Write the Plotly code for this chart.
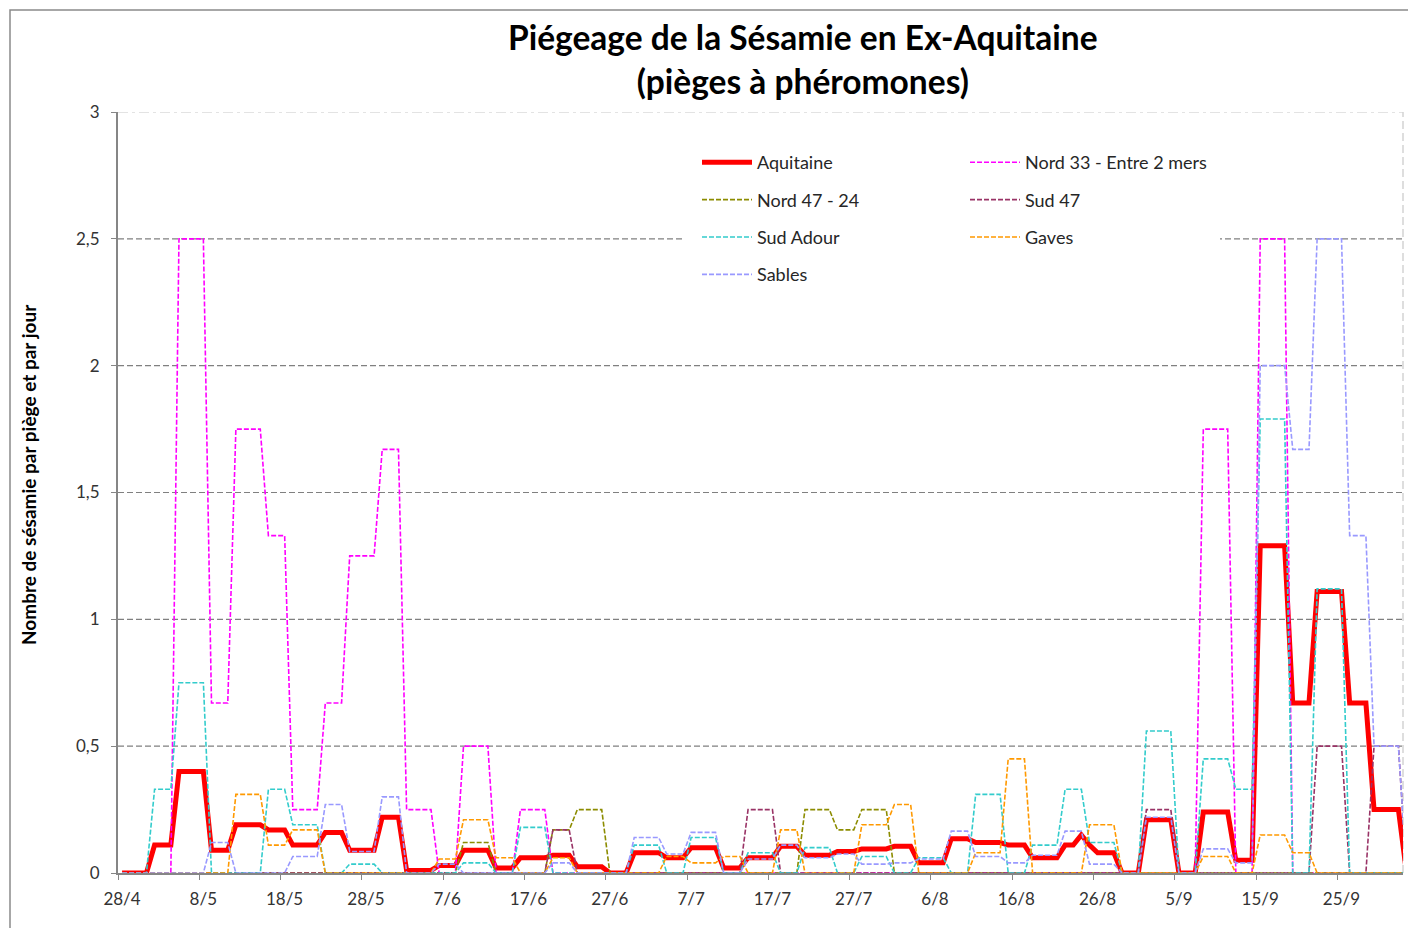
import numpy as np
import pandas as pd
import plotly.graph_objects as go

# ---- data -------------------------------------------------------------
# trap reading periods (Monday / Thursday); each day takes the value of its period
period_start = ["2016-04-28", "2016-05-02", "2016-05-05", "2016-05-09", "2016-05-12", "2016-05-16",
                "2016-05-19", "2016-05-23", "2016-05-26", "2016-05-30", "2016-06-02", "2016-06-06",
                "2016-06-09", "2016-06-13", "2016-06-16", "2016-06-20", "2016-06-23", "2016-06-27",
                "2016-06-30", "2016-07-04", "2016-07-07", "2016-07-11", "2016-07-14", "2016-07-18",
                "2016-07-21", "2016-07-25", "2016-07-28", "2016-08-01", "2016-08-04", "2016-08-08",
                "2016-08-11", "2016-08-15", "2016-08-18", "2016-08-22", "2016-08-25", "2016-08-29",
                "2016-09-01", "2016-09-05", "2016-09-08", "2016-09-12", "2016-09-15", "2016-09-19",
                "2016-09-22", "2016-09-26", "2016-09-29", "2016-10-03"]
first_day = "2016-04-28"
last_day = "2016-10-03"

aquitaine = [0, 0.11, 0.40, 0.09, 0.19, 0.17, 0.11, 0.16, 0.09, 0.22, 0.01, 0.03, 0.09, 0.02, 0.06, 0.07,
             0.025, 0, 0.08, 0.06, 0.10, 0.02, 0.06, 0.105, 0.07, 0.085, 0.095, 0.105, 0.04, 0.135,
             0.12, 0.11, 0.06, 0.11, 0.08, 0, 0.21, 0, 0.24, 0.05, 1.29, 0.67, 1.11, 0.67, 0.25, 0]
aquitaine_daily = {"2016-08-24": 0.15, "2016-08-25": 0.11}
nord33 = [0, 0, 2.5, 0.67, 1.75, 1.33, 0.25, 0.67, 1.25, 1.67, 0.25, 0, 0.5, 0, 0.25, 0,
          0, 0, 0, 0, 0, 0, 0, 0, 0, 0, 0, 0, 0, 0,
          0, 0, 0, 0, 0, 0, 0, 0, 1.75, 0, 2.5, 0, 0, 0, 0, 0]
nord47_24 = [0, 0, 0, 0, 0, 0, 0, 0, 0, 0, 0, 0, 0.12, 0, 0, 0.17,
             0.25, 0, 0, 0, 0, 0, 0, 0, 0.25, 0.17, 0.25, 0, 0, 0,
             0, 0, 0, 0, 0, 0, 0, 0, 0, 0, 0, 0, 0, 0, 0, 0]
sud47 = [0, 0, 0, 0, 0, 0, 0, 0, 0, 0, 0, 0, 0, 0, 0, 0.17,
         0, 0, 0, 0, 0, 0, 0.25, 0, 0, 0, 0, 0, 0, 0,
         0, 0, 0, 0, 0, 0, 0.25, 0, 0, 0, 0, 0, 0.5, 0, 0.5, 0]
sud_adour = [0, 0.33, 0.75, 0, 0, 0.33, 0.19, 0, 0.035, 0, 0, 0, 0.04, 0, 0.18, 0,
             0, 0, 0.11, 0, 0.14, 0, 0.08, 0, 0.10, 0, 0.065, 0, 0.06, 0,
             0.31, 0, 0.11, 0.33, 0.12, 0, 0.56, 0, 0.45, 0.33, 1.79, 0, 1.12, 0, 0, 0]
gaves = [0, 0, 0, 0, 0.31, 0.11, 0.17, 0, 0, 0, 0, 0.055, 0.21, 0.06, 0, 0.06,
         0, 0, 0, 0.065, 0.04, 0.065, 0, 0.17, 0, 0, 0.19, 0.27, 0, 0,
         0.08, 0.45, 0, 0, 0.19, 0, 0, 0, 0.065, 0, 0.15, 0.08, 0, 0, 0, 0]
sables = [0, 0, 0, 0.12, 0, 0, 0.065, 0.27, 0.085, 0.30, 0, 0.035, 0, 0, 0, 0.04,
          0, 0, 0.14, 0.075, 0.16, 0, 0.055, 0.11, 0.06, 0.075, 0.035, 0.04, 0.055, 0.165,
          0.065, 0.04, 0.07, 0.165, 0.035, 0, 0.22, 0, 0.095, 0.04, 2.0, 1.67, 2.5, 1.33, 0.5, 0]

tick_pos = ["2016-04-27 12:00", "2016-05-07 12:00", "2016-05-17 12:00", "2016-05-27 12:00",
            "2016-06-06 12:00", "2016-06-16 12:00", "2016-06-26 12:00", "2016-07-06 12:00",
            "2016-07-16 12:00", "2016-07-26 12:00", "2016-08-05 12:00", "2016-08-15 12:00",
            "2016-08-25 12:00", "2016-09-04 12:00", "2016-09-14 12:00", "2016-09-24 12:00"]
tick_labels = ["28/4", "8/5", "18/5", "28/5", "7/6", "17/6", "27/6", "7/7", "17/7", "27/7",
               "6/8", "16/8", "26/8", "5/9", "15/9", "25/9"]
y_ticks = [0, 0.5, 1, 1.5, 2, 2.5, 3]
y_labels = ["0", "0,5", "1", "1,5", "2", "2,5", "3"]

# ---- build daily series ----------------------------------------------
days = pd.date_range(first_day, last_day, freq="D")
starts = pd.to_datetime(period_start)
idx = np.searchsorted(starts.values, days.values, side="right") - 1


def daily(vals, overrides=None):
    arr = np.asarray(vals, dtype=float)[idx]
    if overrides:
        for k, v in overrides.items():
            arr[days.get_loc(pd.Timestamp(k))] = v
    return arr


series = [
    ("Aquitaine", daily(aquitaine, aquitaine_daily), "#FF0000", 5, "solid", "legend"),
    ("Nord 33 - Entre 2 mers", daily(nord33), "#FF00FF", 1.6, "5px,2px", "legend2"),
    ("Nord 47 - 24", daily(nord47_24), "#8C8C00", 1.6, "5px,2px", "legend"),
    ("Sud 47", daily(sud47), "#993366", 1.6, "5px,2px", "legend2"),
    ("Sud Adour", daily(sud_adour), "#33CCCC", 1.6, "5px,2px", "legend"),
    ("Gaves", daily(gaves), "#FF9900", 1.6, "5px,2px", "legend2"),
    ("Sables", daily(sables), "#9999FF", 1.6, "5px,2px", "legend"),
]

FONT = "Lato, 'Open Sans', sans-serif"
fig = go.Figure()
for name, y, col, w, dash, lg in series:
    fig.add_trace(go.Scatter(x=days, y=y, mode="lines", name=name, legend=lg, legendgroup=name,
                             line=dict(color=col, width=w, dash=dash)))

# page body margin offset (8px) compensated: figure placed so that features land on target pixels
OFF = 8
W, H = 1408, 920
L, R, T, B = 110, 13, 104, 55
pw, ph = W - L - R, H - T - B


def px2x(px):
    return (px - OFF - L) / pw


def py2y(py):
    return (H - B - (py - OFF)) / ph


shapes = []
for v in [0.5, 1, 1.5, 2, 2.5]:
    shapes.append(dict(type="line", xref="paper", yref="y", x0=0, x1=1, y0=v, y1=v, layer="below",
                       line=dict(color="#808080", width=1.2, dash="6px,3px")))
shapes.append(dict(type="line", xref="paper", yref="y", x0=0, x1=1, y0=3, y1=3, layer="below",
                   line=dict(color="#C8C8C8", width=1.2, dash="10px,4px,3px,4px")))
shapes.append(dict(type="line", xref="paper", yref="y", x0=1, x1=1, y0=0, y1=3, layer="below",
                   line=dict(color="#D3D3D3", width=1.5, dash="8px,4px")))
# legend background band
shapes.append(dict(type="rect", xref="paper", yref="paper", x0=px2x(685), x1=px2x(1220),
                   y0=py2y(292), y1=py2y(142), layer="below", fillcolor="white",
                   line=dict(width=0)))
# chart area border
shapes.append(dict(type="rect", xref="paper", yref="paper", x0=px2x(10), x1=px2x(1440),
                   y0=py2y(950), y1=py2y(10), layer="above", fillcolor="rgba(0,0,0,0)",
                   line=dict(color="#8A8A8A", width=1.5)))

legend_common = dict(bgcolor="rgba(255,255,255,1)", borderwidth=0, font=dict(family=FONT, size=18, color="#262626"),
                     xanchor="left", yanchor="top", orientation="v", tracegroupgap=11, itemwidth=50,
                     traceorder="grouped")

fig.update_layout(
    width=W, height=H,
    margin=dict(l=L, r=R, t=T, b=B),
    paper_bgcolor="white", plot_bgcolor="white",
    font=dict(family=FONT, size=17, color="#333333"),
    showlegend=True,
    legend=dict(x=px2x(697), y=py2y(144), **legend_common),
    legend2=dict(x=px2x(965), y=py2y(144), **legend_common),
    shapes=shapes,
    xaxis=dict(type="date", range=["2016-04-27 12:00", "2016-10-02 13:30"],
               tickmode="array", tickvals=tick_pos, ticktext=tick_labels,
               ticks="outside", ticklen=5, tickcolor="#868686", tickwidth=1.2,
               showline=True, linecolor="#868686", linewidth=1.5, showgrid=False, zeroline=False,
               ticklabelshift=4, ticklabelstandoff=5,
               tickfont=dict(family=FONT, size=17, color="#333333")),
    yaxis=dict(range=[0, 3], tickmode="array", tickvals=y_ticks, ticktext=y_labels,
               ticks="outside", ticklen=5, tickcolor="#868686", tickwidth=1.2,
               showline=True, linecolor="#868686", linewidth=2, showgrid=False, zeroline=False,
               ticklabelstandoff=8, tickfont=dict(family=FONT, size=17, color="#333333")),
    annotations=[
        dict(text="<b>Piégeage de la Sésamie en Ex-Aquitaine<br>(pièges à phéromones)</b>",
             xref="paper", yref="paper", x=px2x(803), y=py2y(59), xanchor="center", yanchor="middle",
             showarrow=False, font=dict(family=FONT, size=33.5, color="#000000")),
        dict(text="<b>Nombre de sésamie par piège et par jour</b>", textangle=-90,
             xref="paper", yref="paper", x=px2x(28), y=py2y(475), xanchor="center", yanchor="middle",
             showarrow=False, font=dict(family=FONT, size=19, color="#000000")),
    ],
)

fig.write_html("out.html")
